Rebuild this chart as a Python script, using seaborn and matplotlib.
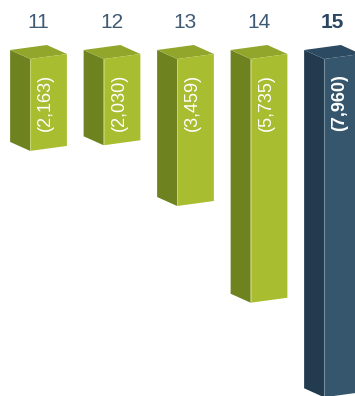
import numpy as np
import pandas as pd
import seaborn as sns
import matplotlib
matplotlib.use("Agg")
import matplotlib.pyplot as plt
from matplotlib.patches import Polygon

# Chart data
categories = ["11", "12", "13", "14", "15"]
values = [-2163, -2030, -3459, -5735, -7960]
highlight = "15"

# Colours: front, side, top
GREEN = ("#a9bd31", "#6e8220", "#91a62a")
BLUE = ("#35566d", "#223b4f", "#2c4a61")
LABEL_COLOR = "#3e5a74"

sns.set_theme(style="white")
plt.rcParams['font.family'] = ['Liberation Sans', 'DejaVu Sans']

df = pd.DataFrame({"cat": categories, "value": values})
palette = {c: (BLUE[0] if c == highlight else GREEN[0]) for c in categories}

fig = plt.figure(figsize=(3.55, 3.96), dpi=100)
ax = fig.add_axes([0, 0, 1, 1])
sns.barplot(data=df, x="cat", y="value", hue="cat", palette=palette,
            order=categories, width=0.5, legend=False, ax=ax, saturation=1)

ax.set_xlim(-48.5 / 73.5, (355 - 48.5) / 73.5)
ax.set_ylim(-(396 - 59) * 23.53, 59 * 23.53)
ax.axis("off")

# turn flat bars into little boxes (offsets in pixels)
slant = np.array([0, 5])
depth = np.array([-20, 9])
to_data = ax.transData.inverted()

for patch, cat in zip(ax.patches, categories):
    front, side, top = BLUE if cat == highlight else GREEN
    x0, y0 = patch.get_x(), patch.get_y()
    x1, y1 = x0 + patch.get_width(), y0 + patch.get_height()
    ytop, ybot = max(y0, y1), min(y0, y1)
    flt = ax.transData.transform((x0, ytop))
    flb = ax.transData.transform((x0, ybot))
    frt = ax.transData.transform((x1, ytop)) + slant
    frb = ax.transData.transform((x1, ybot)) + slant
    faces = [
        ([flt, flt + depth, flb + depth, flb], side),
        ([flt, flt + depth, frt + depth, frt], top),
        ([flt, frt, frb, flb], front),
    ]
    for pts, col in faces:
        ax.add_patch(Polygon(to_data.transform(np.array(pts)), closed=True,
                             facecolor=col, edgecolor="none", zorder=3))
    # light edge between side and front
    edge = to_data.transform(np.array([flt, flb]))
    ax.plot(edge[:, 0], edge[:, 1], color="white", alpha=0.25, lw=0.8, zorder=4)
    patch.set_visible(False)

for i, (cat, val) in enumerate(zip(categories, values)):
    bold = cat == highlight
    ax.annotate(cat, xy=(i, 0), xytext=(-10, 37), textcoords="offset pixels",
                ha="center", va="center", fontsize=15,
                fontweight="bold" if bold else "normal",
                color="#2b4660" if bold else LABEL_COLOR)
    ax.annotate(f"({abs(val):,})", xy=(i, 0), xytext=(-3, -15),
                textcoords="offset pixels", ha="center", va="top",
                rotation=90, fontsize=13, color="white",
                fontweight="bold" if bold else "normal", zorder=5)

fig.savefig("out.png", dpi=100, facecolor="white")
